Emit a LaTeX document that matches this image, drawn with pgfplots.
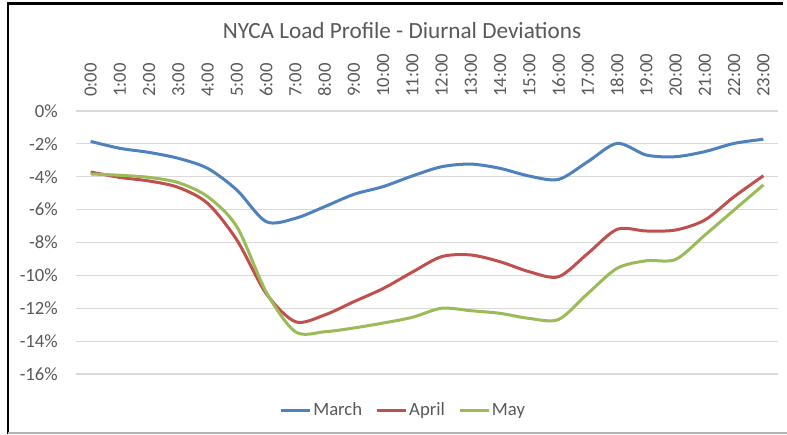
\documentclass[border=0pt]{standalone}
\usepackage{pgfplots}
\pgfplotsset{compat=1.18}
\usepackage{fontspec}
\setmainfont{Carlito}
\definecolor{cblue}{HTML}{4F81BD}
\definecolor{cred}{HTML}{C0504D}
\definecolor{cgreen}{HTML}{9BBB59}
\definecolor{txt}{HTML}{595959}
\definecolor{gridc}{HTML}{D9D9D9}
\begin{document}
\begin{tikzpicture}[x=1pt,y=1pt]
\useasboundingbox (0,0) rectangle (787,434);
\fill[white] (0,0) rectangle (787,434);
\begin{axis}[
  at={(76pt,60pt)}, anchor=south west, scale only axis,
  width=702pt, height=263pt,
  xmin=-0.5, xmax=23.5, ymin=-16, ymax=0,
  xtick={0,...,23},
  xticklabels={0:00,1:00,2:00,3:00,4:00,5:00,6:00,7:00,8:00,9:00,10:00,11:00,12:00,13:00,14:00,15:00,16:00,17:00,18:00,19:00,20:00,21:00,22:00,23:00},
  xticklabel pos=upper,
  xticklabel style={rotate=90, anchor=west, inner sep=0pt, text=txt, font=\fontsize{18.7}{20}\selectfont},
  xticklabel shift=14pt,
  ytick={-16,-14,-12,-10,-8,-6,-4,-2,0},
  yticklabels={-16\%,-14\%,-12\%,-10\%,-8\%,-6\%,-4\%,-2\%,0\%},
  yticklabel style={anchor=east, inner sep=0pt, text=txt, font=\fontsize{18.7}{20}\selectfont},
  yticklabel shift=18pt,
  ymajorgrids, grid style={gridc, line width=1.2pt},
  axis line style={draw=none}, major tick length=0pt,
  clip=false,
  legend columns=3,
  legend style={at={(0.466,-0.137)}, anchor=center, draw=none, fill=none,
    font=\fontsize{18.7}{20}\selectfont, text=txt,
    nodes={inner sep=1.5pt},
    /tikz/every even column/.append style={column sep=12pt}},
  legend image code/.code={\draw[#1] (0pt,0pt) -- (29pt,0pt);},
  every axis plot/.append style={line width=3pt, smooth, tension=0.5},
]
\addplot[cblue] coordinates {
(0,-1.85) (1,-2.27) (2,-2.52) (3,-2.88) (4,-3.49) (5,-4.81) (6,-6.73) (7,-6.53)
(8,-5.82) (9,-5.07) (10,-4.6) (11,-3.95) (12,-3.39) (13,-3.23) (14,-3.49) (15,-3.96)
(16,-4.16) (17,-3.08) (18,-1.97) (19,-2.68) (20,-2.78) (21,-2.47) (22,-1.97) (23,-1.72)};
\addlegendentry{March}
\addplot[cred] coordinates {
(0,-3.71) (1,-4.04) (2,-4.26) (3,-4.65) (4,-5.62) (5,-7.85) (6,-11.1) (7,-12.82)
(8,-12.41) (9,-11.6) (10,-10.8) (11,-9.8) (12,-8.86) (13,-8.76) (14,-9.17) (15,-9.78)
(16,-10.08) (17,-8.66) (18,-7.2) (19,-7.3) (20,-7.24) (21,-6.63) (22,-5.21) (23,-3.94)};
\addlegendentry{April}
\addplot[cgreen] coordinates {
(0,-3.83) (1,-3.91) (2,-4.04) (3,-4.36) (4,-5.21) (5,-7.04) (6,-11.0) (7,-13.43)
(8,-13.43) (9,-13.2) (10,-12.9) (11,-12.55) (12,-12.0) (13,-12.15) (14,-12.31) (15,-12.62)
(16,-12.68) (17,-11.1) (18,-9.57) (19,-9.11) (20,-9.03) (21,-7.55) (22,-6.02) (23,-4.5)};
\addlegendentry{May}
\end{axis}
\node[text=txt, font=\fontsize{23.2}{26}\selectfont] at (402,403) {NYCA Load Profile - Diurnal Deviations};
\draw[black, line width=2.5pt] (8,0) -- (8,430.5) -- (783,430.5);
\draw[gray!60, line width=1.5pt] (8,0.8) -- (787,0.8);
\end{tikzpicture}
\end{document}
